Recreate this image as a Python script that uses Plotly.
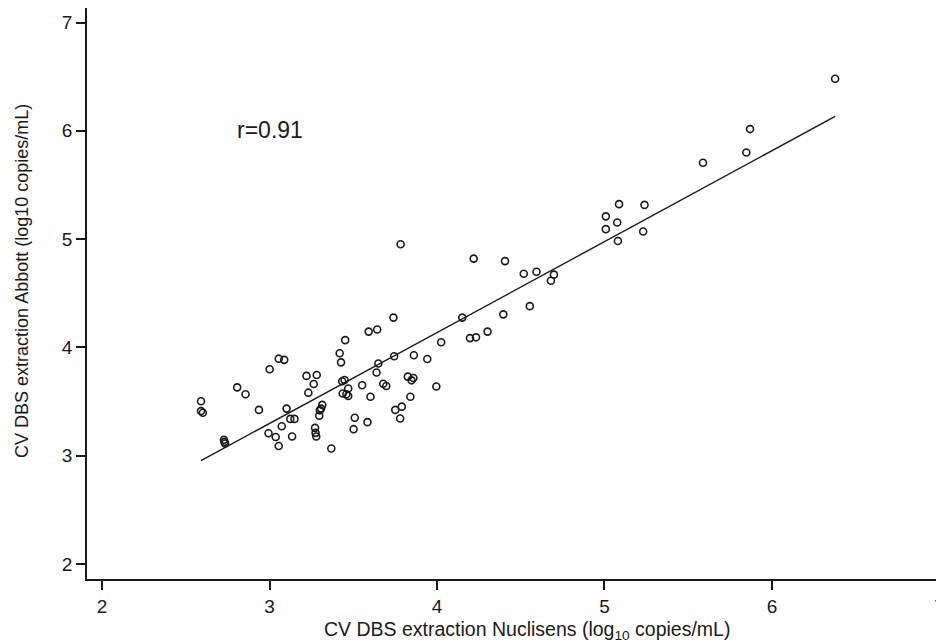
import plotly.graph_objects as go
import numpy as np

# log10 copies/mL, Nuclisens (x) vs Abbott (y)
nuclisens = [6.377, 5.869, 5.847, 5.588, 5.087, 5.239, 5.008, 5.076, 5.008, 5.231,
             5.080, 3.783, 4.219, 4.406, 4.518, 4.594, 4.698, 4.680, 4.554, 4.151,
             4.396, 3.740, 4.302, 4.197, 4.233, 4.025, 3.643, 3.592, 3.452, 3.419,
             3.427, 3.744, 3.862, 3.942, 3.650, 3.639, 3.055, 3.088, 3.001, 3.221,
             3.282, 3.264, 3.232, 2.807, 2.857, 2.937, 2.591, 2.591, 2.602, 3.448,
             3.434, 3.437, 3.459, 3.470, 3.470, 3.553, 3.603, 3.679, 3.697, 3.826,
             3.859, 3.848, 3.841, 3.996, 3.751, 3.790, 3.780, 3.102, 3.124, 3.149,
             3.315, 3.308, 3.297, 3.300, 3.509, 3.585, 3.502, 2.994, 3.037, 3.073,
             3.135, 3.055, 3.272, 3.275, 3.279, 3.369, 2.728, 2.731, 2.735]
abbott = [6.481, 6.016, 5.800, 5.705, 5.323, 5.316, 5.210, 5.153, 5.092, 5.070,
          4.983, 4.952, 4.820, 4.797, 4.680, 4.699, 4.672, 4.615, 4.381, 4.275,
          4.305, 4.275, 4.146, 4.086, 4.093, 4.048, 4.165, 4.146, 4.067, 3.946,
          3.862, 3.919, 3.927, 3.893, 3.851, 3.768, 3.896, 3.885, 3.798, 3.737,
          3.745, 3.662, 3.582, 3.631, 3.567, 3.423, 3.503, 3.412, 3.397, 3.699,
          3.688, 3.575, 3.567, 3.620, 3.552, 3.650, 3.544, 3.665, 3.643, 3.730,
          3.718, 3.696, 3.544, 3.639, 3.423, 3.453, 3.344, 3.435, 3.340, 3.340,
          3.469, 3.435, 3.370, 3.419, 3.351, 3.310, 3.245, 3.207, 3.173, 3.272,
          3.177, 3.090, 3.257, 3.211, 3.177, 3.067, 3.147, 3.128, 3.113]

r_label = "r=0.91"
tick_vals = [2, 3, 4, 5, 6, 7]

x = np.array(nuclisens)
y = np.array(abbott)
slope, intercept = np.polyfit(x, y, 1)
fit_x = np.array([x.min(), x.max()])
fit_y = slope * fit_x + intercept

ink = "#1a1a1a"
font_family = "Arial, Liberation Sans, sans-serif"

fig = go.Figure()
fig.add_trace(go.Scatter(
    x=nuclisens, y=abbott, mode="markers",
    marker=dict(symbol="circle-open", size=7, color=ink, line=dict(width=1.6, color=ink)),
    showlegend=False,
))
fig.add_trace(go.Scatter(
    x=fit_x, y=fit_y, mode="lines",
    line=dict(color=ink, width=1.4),
    showlegend=False,
))

axis_common = dict(
    showgrid=False, zeroline=False, showline=True, linecolor=ink, linewidth=1.8,
    ticks="outside", ticklen=9, tickwidth=1.5, tickcolor=ink,
    tickvals=tick_vals, tickfont=dict(size=19, color=ink, family=font_family),
    ticklabeloverflow="allow",
)

# page has an 8px body margin, so the figure is a bit smaller than the window
fig.update_layout(
    width=936, height=635,
    margin=dict(l=79, r=0, t=0, b=64),
    plot_bgcolor="white", paper_bgcolor="white",
    font=dict(family=font_family, color=ink),
    xaxis=dict(range=[1.9104, 7.027], **axis_common),
    yaxis=dict(range=[1.8615, 7.134], **axis_common),
    annotations=[
        dict(text=r_label, x=2.794, y=6.003, xref="x", yref="y",
             xanchor="left", yanchor="middle", showarrow=False,
             font=dict(size=23, color=ink)),
        dict(text="CV DBS extraction Nuclisens (log<sub>10</sub> copies/mL)",
             x=0.514, y=0, xref="paper", yref="paper", xanchor="center",
             yanchor="middle", yshift=-51, showarrow=False,
             font=dict(size=19.5, color=ink)),
        dict(text="CV DBS extraction Abbott (log10 copies/mL)",
             x=0, y=0.522, xref="paper", yref="paper", xanchor="center",
             yanchor="middle", xshift=-65, textangle=-90, showarrow=False,
             font=dict(size=18, color=ink)),
    ],
)

fig.write_html("out.html")
